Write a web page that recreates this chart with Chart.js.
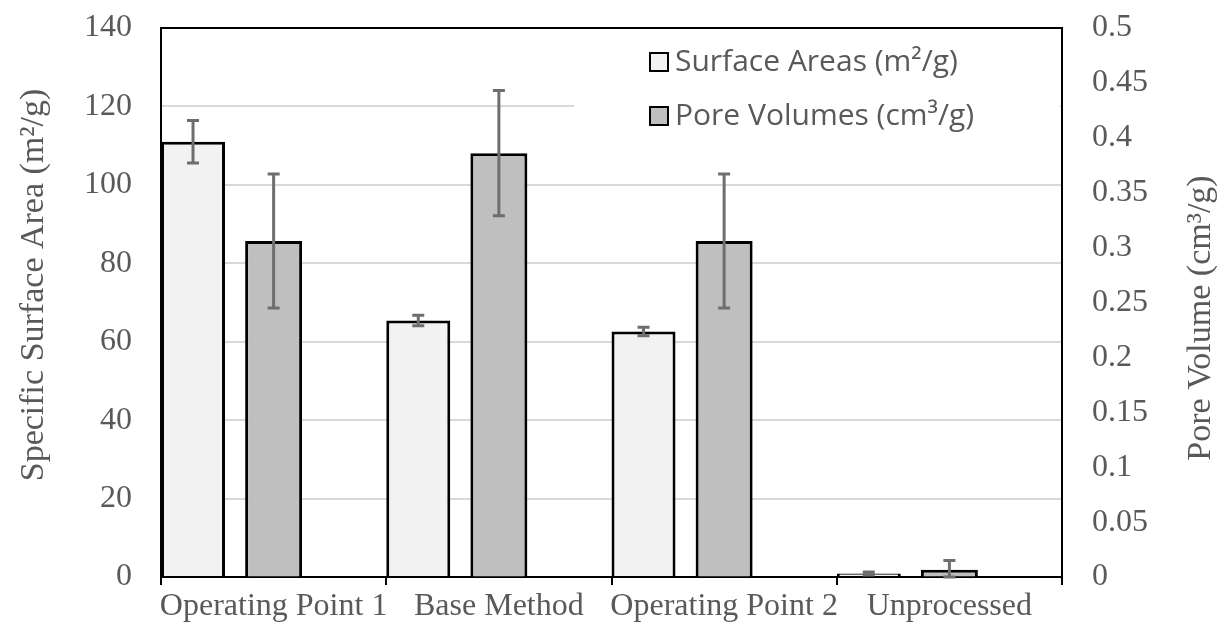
<!DOCTYPE html>
<html>
<head>
<meta charset="utf-8">
<script src="https://cdn.jsdelivr.net/npm/chart.js@4.4.1/dist/chart.umd.min.js"></script>
<style>
html, body { margin: 0; padding: 0; background: #fff; }
#wrap { width: 1219px; height: 632px; }
</style>
</head>
<body>
<div id="wrap"><canvas id="poreChart"></canvas></div>
<script>
const categories = ["Operating Point 1", "Base Method", "Operating Point 2", "Unprocessed"];
const surfaceAreas = [111, 65.4, 62.6, 0.9];
const surfaceAreaErrors = [5.4, 1.35, 1.1, 0.4];
const poreVolumes = [0.306, 0.386, 0.306, 0.0065];
const poreVolumeErrors = [0.061, 0.057, 0.061, 0.0085];
const areaTicks = [0, 20, 40, 60, 80, 100, 120, 140];
const volumeTicks = [0, 0.05, 0.1, 0.15, 0.2, 0.25, 0.3, 0.35, 0.4, 0.45, 0.5];
const areaTitle = "Specific Surface Area (m²/g)";
const volumeTitle = "Pore Volume (cm³/g)";

const textGrey = "#595959";
const serif = "'Liberation Serif', 'Times New Roman', serif";

// error whiskers, one per bar, in the bar's own y scale
const errorBars = {
    id: "errorBars",
    afterDatasetsDraw(chart) {
        const ctx = chart.ctx;
        ctx.save();
        ctx.strokeStyle = "#6e6e6e";
        ctx.lineWidth = 3;
        chart.data.datasets.forEach((ds, di) => {
            if (!ds.errors) return;
            const meta = chart.getDatasetMeta(di);
            const yScale = chart.scales[ds.yAxisID];
            meta.data.forEach((bar, i) => {
                const v = ds.data[i], e = ds.errors[i];
                const yTop = yScale.getPixelForValue(v + e);
                const yBot = yScale.getPixelForValue(Math.max(0, v - e));
                ctx.beginPath();
                ctx.moveTo(bar.x, yTop);
                ctx.lineTo(bar.x, yBot);
                ctx.moveTo(bar.x - 6, yTop);
                ctx.lineTo(bar.x + 6, yTop);
                ctx.moveTo(bar.x - 6, yBot);
                ctx.lineTo(bar.x + 6, yBot);
                ctx.stroke();
            });
        });
        ctx.restore();
    }
};

// legend box sitting inside the plot, top right
const insideLegend = {
    id: "insideLegend",
    beforeDatasetsDraw(chart) {
        const ctx = chart.ctx;
        const area = chart.chartArea;
        ctx.save();
        ctx.fillStyle = "#fff";
        ctx.fillRect(574, area.top + 2, area.right - 576, 120);
        ctx.font = "30px 'Open Sans', sans-serif";
        ctx.textBaseline = "alphabetic";
        const items = chart.data.datasets.filter(ds => ds.label);
        items.forEach((ds, i) => {
            const y = 53 + i * 54;
            ctx.fillStyle = ds.backgroundColor;
            ctx.fillRect(650, y, 18, 18);
            ctx.strokeStyle = "#000";
            ctx.lineWidth = 2;
            ctx.strokeRect(650, y, 18, 18);
            ctx.fillStyle = textGrey;
            ctx.fillText(ds.label, 675, y + 18);
        });
        ctx.restore();
    }
};

// both axis titles read bottom-to-top
const axisTitles = {
    id: "axisTitles",
    afterDraw(chart) {
        const ctx = chart.ctx;
        ctx.save();
        ctx.font = "34px " + serif;
        ctx.fillStyle = textGrey;
        ctx.textAlign = "center";
        ctx.textBaseline = "middle";
        [[areaTitle, 34, 285], [volumeTitle, 1201, 318]].forEach(([text, x, y]) => {
            ctx.save();
            ctx.translate(x, y);
            ctx.rotate(-Math.PI / 2);
            ctx.fillText(text, 0, 0);
            ctx.restore();
        });
        ctx.restore();
    }
};

// fixed axis boxes; tick labels may hang into the outer margin
const fitAxis = size => axis => {
    if (axis.isHorizontal()) {
        axis.height = size;
    } else {
        axis.width = size;
        axis.paddingTop = 0;
        axis.paddingBottom = 0;
    }
};

Chart.defaults.font.family = serif;
Chart.defaults.color = textGrey;

new Chart(document.getElementById("poreChart"), {
    type: "bar",
    data: {
        labels: categories,
        datasets: [{
            label: "Surface Areas (m²/g)",
            data: surfaceAreas,
            errors: surfaceAreaErrors,
            yAxisID: "yArea",
            backgroundColor: "#f2f2f2",
            borderColor: "#000",
            borderWidth: 3,
            barPercentage: 0.794
        }, {
            label: "Pore Volumes (cm³/g)",
            data: poreVolumes,
            errors: poreVolumeErrors,
            yAxisID: "yVolume",
            backgroundColor: "#bfbfbf",
            borderColor: "#000",
            borderWidth: 3,
            barPercentage: 0.707
        }, {
            // empty third slot keeps the pair left of each category centre
            label: "",
            data: [null, null, null, null],
            yAxisID: "yArea"
        }]
    },
    options: {
        responsive: true,
        maintainAspectRatio: false,
        animation: false,
        layout: { padding: { top: 28 } },
        datasets: { bar: { categoryPercentage: 1.0735 } },
        plugins: {
            legend: { display: false },
            tooltip: { enabled: false }
        },
        scales: {
            x: {
                grid: {
                    display: true,
                    drawOnChartArea: false,
                    drawTicks: true,
                    tickLength: 8,
                    color: "#000",
                    lineWidth: 2,
                    offset: true
                },
                border: { color: "#000", width: 2 },
                ticks: { font: { size: 32 }, color: textGrey, padding: 2, maxRotation: 0, autoSkip: false },
                afterFit: fitAxis(55)
            },
            yArea: {
                position: "left",
                min: 0,
                max: 140,
                afterBuildTicks: axis => { axis.ticks = areaTicks.map(v => ({ value: v })); },
                grid: {
                    drawTicks: false,
                    lineWidth: 2,
                    color: c => c.tick.value === 140 ? "#000" : "#d9d9d9"
                },
                border: { color: "#000", width: 2 },
                ticks: { font: { size: 32 }, color: textGrey, padding: 29 },
                afterFit: fitAxis(161)
            },
            yVolume: {
                position: "right",
                min: 0,
                max: 0.5,
                afterBuildTicks: axis => { axis.ticks = volumeTicks.map(v => ({ value: v })); },
                grid: { drawOnChartArea: false, drawTicks: false },
                border: { color: "#000", width: 2 },
                ticks: { font: { size: 32 }, color: textGrey, padding: 30, callback: v => String(v) },
                afterFit: fitAxis(157)
            }
        }
    },
    plugins: [errorBars, insideLegend, axisTitles]
});
</script>
</body>
</html>
